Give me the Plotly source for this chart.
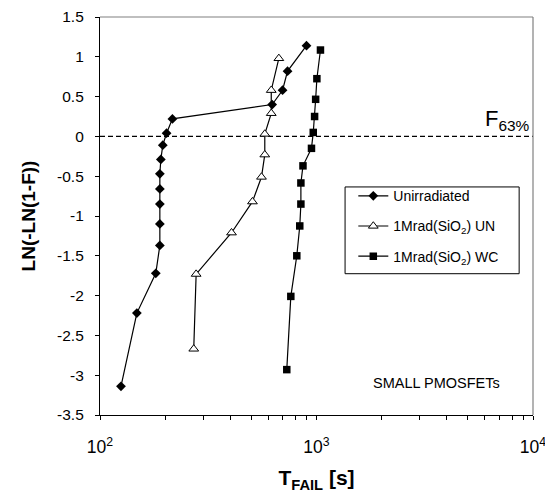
import plotly.graph_objects as go

# Time-to-failure samples (s) and Weibull plotting positions ln(-ln(1-F))
unirr_t = [125, 148, 181, 189, 189, 189, 189, 189, 191, 195, 203, 216, 624, 697, 735, 899]
unirr_y = [-3.14, -2.22, -1.72, -1.37, -1.10, -0.85, -0.66, -0.47, -0.29, -0.11, 0.04, 0.22, 0.40, 0.58, 0.82, 1.14]

un_t = [271, 278, 405, 506, 557, 577, 577, 618, 618, 670]
un_y = [-2.67, -1.73, -1.21, -0.82, -0.51, -0.23, 0.03, 0.29, 0.58, 0.98]

wc_t = [729, 761, 811, 837, 847, 847, 866, 948, 966, 980, 991, 1004, 1043]
wc_y = [-2.93, -2.01, -1.50, -1.125, -0.85, -0.585, -0.37, -0.15, 0.05, 0.25, 0.466, 0.725, 1.085]

series_names = ["Unirradiated", "1Mrad(SiO<sub>2</sub>) UN", "1Mrad(SiO<sub>2</sub>) WC"]

x_tick_vals = [100, 1000, 10000]
x_tick_text = ["10<sup>2</sup>", "10<sup>3</sup>", "10<sup>4</sup>"]
x_minor_vals = [200, 300, 400, 500, 600, 700, 800, 900,
                2000, 3000, 4000, 5000, 6000, 7000, 8000, 9000]
y_tick_vals = [1.5, 1, 0.5, 0, -0.5, -1, -1.5, -2, -2.5, -3, -3.5]
y_tick_text = ["1.5", "1", "0.5", "0", "-0.5", "-1", "-1.5", "-2", "-2.5", "-3", "-3.5"]

FONT = "Liberation Sans, Arial, sans-serif"
LINE = dict(color="black", width=1.2)

fig = go.Figure()
fig.add_trace(go.Scatter(
    x=unirr_t, y=unirr_y, mode="lines+markers", name=series_names[0],
    legendgroup="a", line=LINE,
    marker=dict(symbol="diamond", size=7.5, color="black", line=dict(width=0)),
))
fig.add_trace(go.Scatter(
    x=un_t, y=un_y, mode="lines+markers", name=series_names[1],
    legendgroup="b", line=LINE,
    marker=dict(symbol="triangle-up", size=8.5, color="white",
                line=dict(color="black", width=1)),
))
fig.add_trace(go.Scatter(
    x=wc_t, y=wc_y, mode="lines+markers", name=series_names[2],
    legendgroup="c", line=LINE,
    marker=dict(symbol="square", size=7.5, color="black", line=dict(width=0)),
))

# F63% reference line at ln(-ln(1-F)) = 0
fig.add_shape(type="line", xref="paper", yref="y", x0=0, x1=1, y0=0, y1=0,
              line=dict(color="black", width=1.2, dash="5px,3px"), layer="below")
# grey top/right frame of the plot area
fig.add_shape(type="line", xref="paper", yref="paper", x0=0, x1=1, y0=1, y1=1,
              line=dict(color="#808080", width=1.2))
fig.add_shape(type="line", xref="paper", yref="paper", x0=1, x1=1, y0=0, y1=1,
              line=dict(color="#808080", width=1.2))
# legend frame
fig.add_shape(type="rect", xref="paper", yref="paper",
              x0=0.566, x1=0.968, y0=0.355, y1=0.573,
              line=dict(color="black", width=1), fillcolor="white", layer="below")

fig.add_annotation(text="F<sub>63%</sub>", xref="paper", yref="y", x=1.0, y=0,
                   xanchor="right", yanchor="bottom", showarrow=False, xshift=-1,
                   font=dict(family=FONT, size=22, color="black"))
fig.add_annotation(text="SMALL PMOSFETs", xref="paper", yref="paper", x=0.776, y=0.08,
                   xanchor="center", yanchor="middle", showarrow=False,
                   font=dict(family=FONT, size=14.5, color="black"))

fig.update_layout(
    width=545, height=498,
    margin=dict(l=100, r=12, t=17, b=83),
    paper_bgcolor="white", plot_bgcolor="white",
    font=dict(family=FONT, color="black"),
    showlegend=True,
    legend=dict(x=0.585, y=0.59, xanchor="left", yanchor="top",
                bgcolor="rgba(0,0,0,0)", borderwidth=0,
                font=dict(family=FONT, size=14, color="black"),
                traceorder="grouped", tracegroupgap=9),
    xaxis=dict(type="log", range=[2, 4], automargin=False,
               tickmode="array",
               tickvals=x_tick_vals + x_minor_vals,
               ticktext=x_tick_text + [""] * len(x_minor_vals),
               ticks="outside", ticklen=4, tickwidth=1, tickcolor="black",
               showline=True, linecolor="black", linewidth=1.2,
               showgrid=False, zeroline=False, ticklabelstandoff=12,
               ticklabeloverflow="allow",
               tickfont=dict(family=FONT, size=17.5, color="black"),
               title=dict(text="<b>T<sub>FAIL</sub> [s]</b>", standoff=14,
                          font=dict(family=FONT, size=21, color="black"))),
    yaxis=dict(range=[-3.5, 1.5], automargin=False, tickmode="array",
               tickvals=y_tick_vals, ticktext=y_tick_text,
               ticks="outside", ticklen=4, tickwidth=1, tickcolor="black",
               showline=True, linecolor="black", linewidth=1.2,
               showgrid=False, zeroline=False, ticklabelstandoff=8,
               tickfont=dict(family=FONT, size=15.5, color="black"),
               title=dict(text="<b>LN(-LN(1-F))</b>", standoff=16,
                          font=dict(family=FONT, size=19, color="black"))),
)

fig.write_html("out.html")
